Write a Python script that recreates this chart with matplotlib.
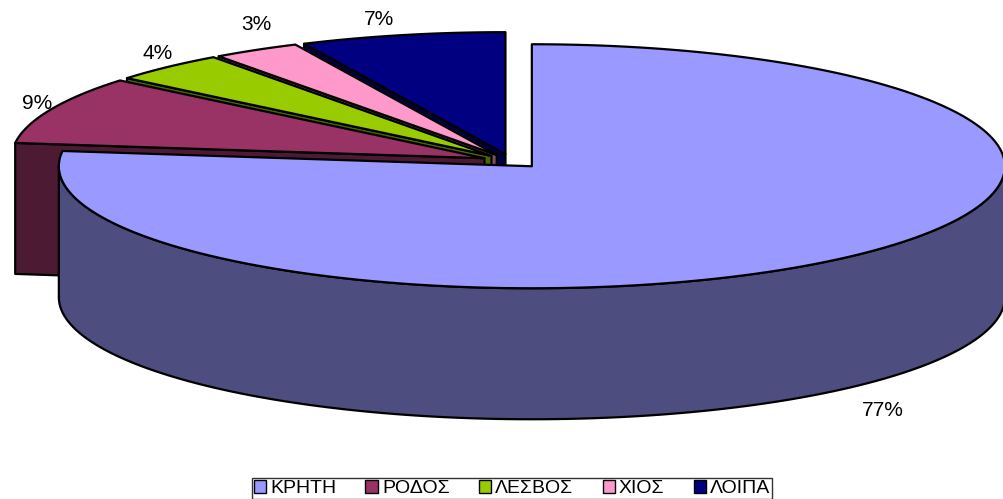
# 3D exploded pie - islands share
import numpy as np
import matplotlib.pyplot as plt
from matplotlib.patches import Polygon, Patch

plt.rcParams['font.family'] = ['Liberation Sans', 'DejaVu Sans']

names = ['ΚΡΗΤΗ', 'ΡΟΔΟΣ', 'ΛΕΣΒΟΣ', 'ΧΙΟΣ', 'ΛΟΙΠΑ']
values = [77, 9, 4, 3, 7]
labels = ['77%', '9%', '4%', '3%', '7%']
top_colors = ['#9999FF', '#993366', '#99CC00', '#FF99CC', '#000080']
side_colors = ['#4D4D80', '#4D1A33', '#4D6600', '#804D66', '#000040']

# geometry in pixels
C0 = (512, 161)     # common centre
A, B = 473, 122     # ellipse half axes
DEPTH = 131
EX, EY = 30, 7      # explosion
label_pos = [(883, 410), (37, 103), (158, 53), (256, 24), (379, 19)]

fig = plt.figure(figsize=(10.04, 4.99), dpi=100)
ax = fig.add_axes([0, 0, 1, 1])
ax.set_xlim(0, 1004)
ax.set_ylim(499, 0)
ax.axis('off')

def pt(c, t, dz=0):
    return c[0] + A*np.cos(np.radians(t)), c[1] - B*np.sin(np.radians(t)) + dz

def poly(points, color):
    ax.add_patch(Polygon(points, closed=True, facecolor=color, edgecolor='black',
                         lw=1.6, joinstyle='round'))

# slice angles, clockwise from 12 o'clock
total = sum(values)
cum = np.cumsum([0] + values)
slices = []
for i, v in enumerate(values):
    t2 = 90 - cum[i]/total*360
    t1 = t2 - v/total*360
    m = np.radians((t1 + t2)/2)
    c = (C0[0] + EX*np.cos(m), C0[1] - EY*np.sin(m))
    slices.append((t1, t2, c))

for i in [4, 3, 2, 1, 0]:
    t1, t2, c = slices[i]
    # radial side walls facing the viewer
    if np.cos(np.radians(t1)) > 1e-6:
        p = pt(c, t1)
        poly([c, p, (p[0], p[1]+DEPTH), (c[0], c[1]+DEPTH)], side_colors[i])
    if np.cos(np.radians(t2)) < -1e-6:
        p = pt(c, t2)
        poly([c, p, (p[0], p[1]+DEPTH), (c[0], c[1]+DEPTH)], side_colors[i])
    # outer curved wall (front half)
    for k in range(-2, 3):
        lo, hi = max(t1, -180 + 360*k), min(t2, 360*k)
        if hi > lo:
            ts = np.linspace(lo, hi, 200)
            up = [pt(c, t) for t in ts]
            dn = [pt(c, t, DEPTH) for t in ts[::-1]]
            poly(up + dn, side_colors[i])
    # top face
    ts = np.linspace(t1, t2, 300)
    poly([c] + [pt(c, t) for t in ts], top_colors[i])

for lab, (x, y) in zip(labels, label_pos):
    ax.text(x, y, lab, fontsize=15, ha='center', va='center')

handles = [Patch(facecolor=col, edgecolor='black', lw=1) for col in top_colors]
leg = fig.legend(handles, names, loc='upper center', bbox_to_anchor=(0.51, 1 - 478/499),
                 ncol=5, fontsize=14, frameon=True, fancybox=False, handlelength=0.65,
                 handleheight=0.65, handletextpad=0.2, columnspacing=1.5, borderpad=0.1,
                 borderaxespad=0)
leg.get_frame().set_edgecolor('black')
leg.get_frame().set_linewidth(1)

plt.savefig('out.png', dpi=100)
